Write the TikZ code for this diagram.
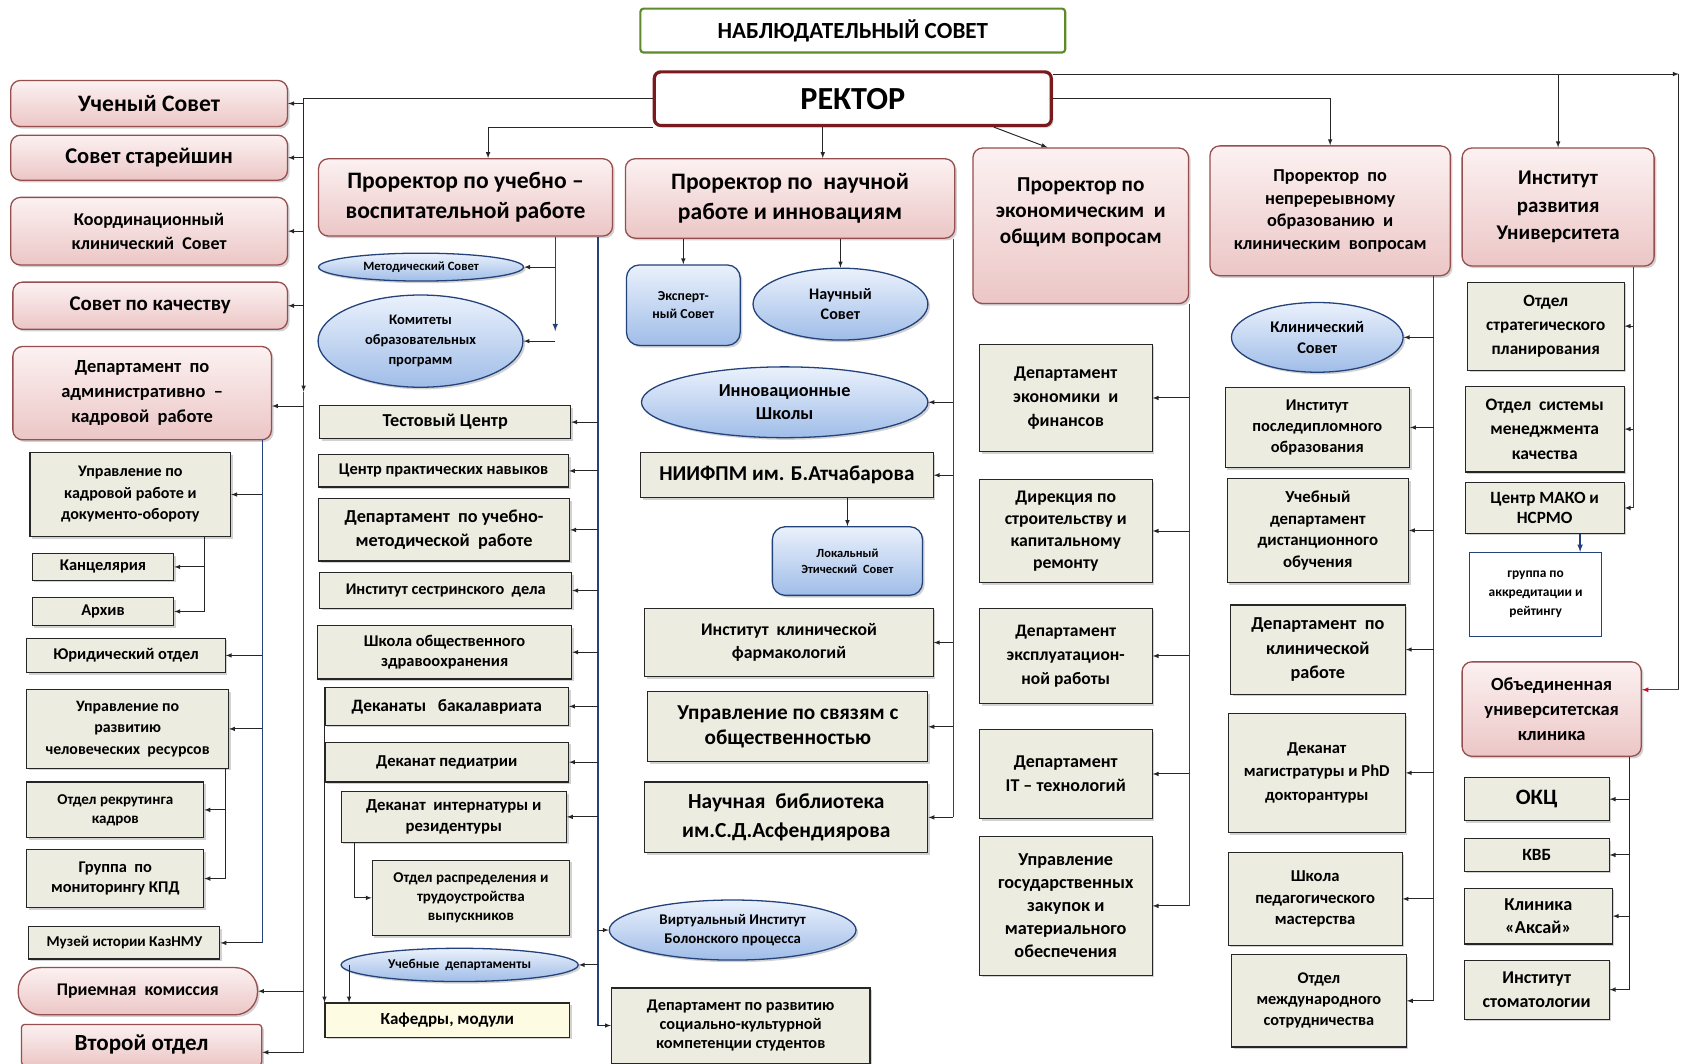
\documentclass[tikz,border=0pt]{standalone}
\usepackage{fontspec}
\setmainfont{Carlito}
\usepackage{xcolor}
\usetikzlibrary{arrows}
\usetikzlibrary{shapes.geometric}
\usetikzlibrary{calc, shadows}
\definecolor{qpink}{RGB}{236,198,198}
\definecolor{qpinklt}{RGB}{252,241,241}
\definecolor{qbrd}{RGB}{150,78,78}
\definecolor{qbeige}{RGB}{237,236,224}
\definecolor{qblue}{RGB}{36,66,122}
\definecolor{qbluelt}{RGB}{234,241,252}
\definecolor{qbluedk}{RGB}{160,189,232}
\definecolor{qred}{RGB}{190,20,42}
\definecolor{qgreen}{RGB}{94,139,42}
\definecolor{qmaroon}{RGB}{120,26,30}
\definecolor{qyel}{RGB}{253,251,226}

\tikzset{
  fs/.style 2 args={font=\fontsize{#1}{#2}\selectfont\bfseries},
  sz/.style 2 args={minimum width=#1, minimum height=#2},
  shad/.style={drop shadow={shadow xshift=2pt, shadow yshift=-2pt, opacity=0.35}},
  pinkbox/.style={rectangle, draw=qbrd, line width=1.2pt, rounded corners=9pt,
    top color=qpinklt, bottom color=qpink, align=center, inner sep=2pt, shad},
  beigebox/.style={rectangle, draw=black!85, line width=1pt, fill=qbeige,
    align=center, inner sep=2pt, shad},
  blueell/.style={ellipse, draw=qblue, line width=1.2pt, top color=qbluelt,
    bottom color=qbluedk, align=center, inner sep=0pt, shad},
  bluerr/.style={rectangle, rounded corners=12pt, draw=qblue, line width=1.2pt,
    top color=qbluelt, bottom color=qbluedk, align=center, inner sep=2pt, shad},
  cn/.style={draw=black!85, line width=0.9pt},
  bus/.style={draw=qblue, line width=1.3pt},
  redl/.style={draw=qred, line width=1.1pt},
}

\begin{document}
\begin{tikzpicture}[x=1pt, y=-1pt]
\path[fill=white] (0,0) rectangle (1568,991);
\useasboundingbox (0,0) rectangle (1568,991);

% top
\node[draw=qgreen, line width=2pt, rounded corners=3pt, fill=white, sz={396}{41}, fs={21.5}{24}] (nsovet) at (795,28.5) {НАБЛЮДАТЕЛЬНЫЙ СОВЕТ};
\node[draw=qmaroon, line width=3pt, rounded corners=6pt, fill=white, sz={370}{50}, fs={30}{34}, shad] (rektor) at (795,92) {РЕКТОР};

% left column
\node[pinkbox, sz={258}{43}, fs={22}{26}] (us) at (139,96.5) {Ученый Совет};
\node[pinkbox, sz={258}{42}, fs={21}{25}] (sst) at (139,147) {Совет старейшин};
\node[pinkbox, sz={258}{63}, fs={16.8}{22}] (kks) at (139,215.5) {Координационный\\клинический \ Совет};
\node[pinkbox, sz={256}{44}, fs={19.5}{23}] (spk) at (140,285) {Совет по качеству};
\node[pinkbox, sz={241}{87}, fs={17.2}{23}] (dak) at (132.5,366.5) {Департамент \ по\\административно \ –\\кадровой \ работе};
\node[beigebox, sz={187}{78}, fs={15}{20}] (ukr) at (121.5,461) {Управление по\\кадровой работе и\\документо-обороту};
\node[beigebox, sz={132}{25}, fs={15.3}{18}] (kanc) at (96,528.5) {Канцелярия};
\node[beigebox, sz={132}{26}, fs={15.3}{18}] (arch) at (96,570) {Архив};
\node[beigebox, sz={185}{32}, fs={15.3}{18}] (yur) at (117.5,611) {Юридический отдел};
\node[beigebox, sz={188}{73}, fs={14.8}{20}] (urchr) at (119,679.5) {Управление по\\развитию\\человеческих \ ресурсов};
\node[beigebox, sz={165}{52}, fs={14}{17.5}] (rekr) at (107.5,755) {Отдел рекрутинга\\кадров};
\node[beigebox, sz={165}{54}, fs={15.3}{19}] (kpd) at (107.5,819) {Группа \ по\\мониторингу КПД};
\node[beigebox, sz={178}{30}, fs={14}{16}] (muz) at (116,879) {Музей истории КазНМУ};
\node[pinkbox, rounded corners=21pt, sz={223}{44}, fs={16.6}{20}] (prk) at (128.5,924) {Приемная \ комиссия};
\node[pinkbox, rounded corners=3pt, sz={224}{38}, fs={21.5}{24}] (vtor) at (132,974) {Второй отдел};

% column of the first vice-rector
\node[pinkbox, sz={274}{72}, fs={22}{28}] (pr1) at (434,184) {Проректор по учебно –\\воспитательной работе};
\node[blueell, sz={191}{26}, fs={11.8}{13}] (metod) at (392.5,249) {Методический Совет};
\node[blueell, sz={191}{86}, fs={13.5}{18.5}] (kom) at (392,318) {Комитеты\\образовательных\\программ};
\node[beigebox, sz={234}{31}, fs={17}{20}] (test) at (415,393.5) {Тестовый Центр};
\node[beigebox, sz={233}{30}, fs={15.3}{18}] (cpn) at (413.5,439) {Центр практических навыков};
\node[beigebox, sz={234}{58}, fs={17}{22}] (dum) at (414,494) {Департамент \ по учебно-\\методической \ работе};
\node[beigebox, sz={235}{33}, fs={15.2}{18}] (isd) at (415.5,550.5) {Институт сестринского \ дела};
\node[beigebox, sz={237}{50}, fs={15.3}{19}] (shoz) at (414.5,608) {Школа общественного\\здравоохранения};
\node[beigebox, sz={227}{35}, fs={16.2}{19}] (dbak) at (416.5,658.5) {Деканаты \ \ бакалавриата};
\node[beigebox, sz={227}{37}, fs={15.5}{19}] (dped) at (416.5,710.5) {Деканат педиатрии};
\node[beigebox, sz={210}{47}, fs={15.6}{19}] (dint) at (423,761.5) {Деканат \ интернатуры и\\резидентуры};
\node[beigebox, sz={184}{70}, fs={14}{18}] (otrd) at (439,837) {Отдел распределения и\\трудоустройства\\выпускников};
\node[blueell, sz={221}{31}, fs={12.5}{14}] (ucd) at (428.5,899.5) {Учебные \ департаменты};
\node[beigebox, fill=qyel, sz={228}{32}, fs={15.8}{18}] (kaf) at (417,951) {Кафедры, модули};
\node[blueell, sz={230}{56}, fs={13.8}{18}] (vib) at (683,867) {Виртуальный Институт\\Болонского процесса};
\node[beigebox, sz={241}{70}, fs={15.2}{18}] (dsk) at (690.5,956) {Департамент по развитию\\социально-культурной\\компетенции студентов};

% column of science
\node[pinkbox, sz={307}{74}, fs={22}{28}] (pr2) at (736.5,185) {Проректор по \ научной\\работе и инновациям};
\node[bluerr, sz={106}{75}, fs={12.8}{17}] (ekspert) at (637,284.5) {Эксперт-\\ный Совет};
\node[blueell, sz={163}{67}, fs={15}{19}] (nauch) at (783.5,283.5) {Научный\\Совет};
\node[blueell, sz={267}{66}, fs={17}{21}] (innov) at (731.5,375) {Инновационные\\Школы};
\node[beigebox, sz={273}{42}, fs={19.7}{23}] (niifpm) at (733.5,443) {НИИФПМ им. Б.Атчабарова};
\node[bluerr, sz={140}{64}, fs={11.6}{15}] (les) at (790,523) {Локальный\\Этический \ Совет};
\node[beigebox, sz={269}{64}, fs={16.5}{22}] (ikf) at (735.5,599) {Институт \ клинической\\фармакологий};
\node[beigebox, sz={261}{65}, fs={19.8}{22.5}] (usvo) at (734.5,677.5) {Управление по связям с\\общественностью};
\node[beigebox, sz={264}{66}, fs={20}{27}] (bib) at (733,762) {Научная \ библиотека\\им.С.Д.Асфендиярова};

% column of economy
\node[pinkbox, sz={201}{145}] (pr3) at (1007.5,210.5) {};
\node[fs={19.8}{24.5}, align=center] (pr3t) at (1007.5,198) {Проректор по\\экономическим \ и\\общим вопросам};
\node[beigebox, sz={161}{100}, fs={16.7}{22.5}] (dekf) at (993.5,371) {Департамент\\экономики \ и\\финансов};
\node[beigebox, sz={161}{96}, fs={16.5}{20.5}] (dsk2) at (993.5,495) {Дирекция по\\строительству и\\капитальному\\ремонту};
\node[beigebox, sz={161}{89}, fs={16.3}{22.5}] (dexp) at (993.5,611.5) {Департамент\\эксплуатацион-\\ной работы};
\node[beigebox, sz={161}{83}, fs={16.8}{22}] (dit) at (993.5,721.5) {Департамент\\IT – технологий};
\node[beigebox, sz={161}{129}, fs={17}{21.5}] (ugz) at (993.5,844.5) {Управление\\государственных\\закупок и\\материального\\обеспечения};

% column of clinical questions
\node[pinkbox, sz={224}{121}, fs={17}{21}] (pr4) at (1240,196.5) {Проректор \ по\\непререывному\\образованию \ и\\клиническим \ вопросам};
\node[blueell, sz={160}{65}, fs={15.2}{20}] (klin) at (1228,314.5) {Клинический\\Совет};
\node[beigebox, sz={172}{75}, fs={15.3}{19.5}] (ipo) at (1228,398.5) {Институт\\последипломного\\образования};
\node[beigebox, sz={169}{97}, fs={15.7}{20}] (udo) at (1228.5,494.5) {Учебный\\департамент\\дистанционного\\обучения};
\node[beigebox, sz={163}{83}, fs={17}{22.5}] (dkr) at (1228.5,605.5) {Департамент \ по\\клинической\\работе};
\node[beigebox, sz={165}{111}, fs={15.5}{22}] (dmag) at (1227.5,720.5) {Деканат\\магистратуры и PhD\\докторантуры};
\node[beigebox, sz={162}{86}, fs={15.5}{20}] (shpm) at (1226,838) {Школа\\педагогического\\мастерства};
\node[beigebox, sz={163}{86}, fs={15.2}{19.5}] (omc) at (1229.5,933) {Отдел\\международного\\сотрудничества};

% right column
\node[pinkbox, sz={179}{110}, fs={19.5}{25.5}] (iru) at (1452.5,193) {Институт\\развития\\Университета};
\node[beigebox, sz={146}{82}, fs={16}{22.5}] (osp) at (1441,304) {Отдел\\стратегического\\планирования};
\node[beigebox, sz={148}{80}, fs={16.3}{23}] (osmk) at (1440,400) {Отдел \ системы\\менеджмента\\качества};
\node[beigebox, sz={148}{47}, fs={16}{19}] (cmako) at (1440,473.5) {Центр МАКО и\\НСРМО};
\node[draw=qblue, line width=1pt, fill=white, align=center, sz={123}{78}, fs={12.5}{18}] (grak) at (1431.5,554) {группа по\\аккредитации и\\рейтингу};
\node[pinkbox, sz={167}{88}, fs={17.3}{23}] (ouk) at (1446.5,661) {Объединенная\\университетская\\клиника};
\node[beigebox, sz={135}{40}, fs={20.5}{24}] (okc) at (1432.5,745) {ОКЦ};
\node[beigebox, sz={135}{30}, fs={16}{18}] (kvb) at (1432.5,797) {КВБ};
\node[beigebox, sz={138}{52}, fs={17}{21}] (aksai) at (1434,854) {Клиника\\«Аксай»};
\node[beigebox, sz={135}{55}, fs={16.8}{22}] (ist) at (1432.5,922.5) {Институт\\стоматологии};

% lines from the rector
\coordinate (lb) at (283,365);
\coordinate (lbe) at (283,981);
\draw[cn,-latex] (rektor.west) -| (lb);
\draw[redl] (lb) -- (lbe);
\foreach \n in {us,sst,kks,spk}
  \draw[cn,-latex] (lb |- \n.east) -- (\n.east);
\draw[cn,-latex] ($(lb |- dak.east)+(0,12)$) -- ($(dak.east)+(0,12)$);
\draw[cn,-latex] (lb |- prk.east) -- (prk.east);
\draw[cn,-latex] (lbe) -- (lbe -| vtor.east);
\draw[cn,-latex] (rektor.south west) -| ($(pr1.north)+(21,0)$);
\draw[cn,-latex] ($(rektor.south)+(-28,0)$) -- ($(pr2.north)+(30.5,0)$);
\draw[cn,-latex] ($(rektor.south east)+(-55,0)$) -- ($(pr3.north west)+(70,0)$);
\draw[cn,-latex] (rektor.east) -| (pr4.north);
\coordinate (rc) at (1565,69);
\coordinate (ok1) at ($(ouk.east)+(0,-18)$);
\draw[cn,-latex] (rektor.north east |- rc) -- (rc);
\draw[cn,-latex] (iru.north |- rc) -- (iru.north);
\draw[cn] (rc) -- (rc |- ok1);
\draw[redl,-latex] (rc |- ok1) -- (ok1);

% administrative department
\coordinate (ab) at ($(dak.south east)+(-9,0)$);
\draw[bus] (ab) -- (ab |- muz.east);
\foreach \n in {ukr,yur,urchr,muz}
  \draw[cn,-latex] (ab |- \n.east) -- (\n.east);
\coordinate (kb) at ($(ukr.south east)+(-25,0)$);
\draw[cn,-latex] (kb) |- (arch.east);
\draw[cn,-latex] (kb |- kanc.east) -- (kanc.east);
\coordinate (rb) at ($(urchr.south east)+(-3,0)$);
\draw[cn,-latex] (rb) |- (kpd.east);
\draw[cn,-latex] (rb |- rekr.east) -- (rekr.east);

% first vice-rector
\coordinate (ib) at ($(pr1.south east)+(-54,0)$);
\draw[bus,-latex] (ib) -- ++(0,88);
\draw[cn,-latex] (ib |- metod.east) -- (metod.east);
\draw[cn,-latex] (ib |- kom.east) -- (kom.east);
\coordinate (mb) at ($(pr1.south east)+(-14,0)$);
\draw[bus] (mb) -- (mb |- dsk.west);
\foreach \n in {test,cpn,dum,isd,shoz,dbak,dped,dint,ucd}
  \draw[cn,-latex] (mb |- \n.east) -- (\n.east);
\foreach \n in {vib,dsk}
  \draw[cn,-latex] (mb |- \n.west) -- (\n.west);
\draw[cn,-latex] ($(dint.south west)+(13,0)$) |- (otrd.west);
\draw[cn,-latex] (dbak.south west) -- (dbak.south west |- kaf.north);
\coordinate (u1) at ($(ucd.west)+(8,0)$);
\draw[cn,-latex] (u1) -- (u1 |- kaf.north);

% science
\coordinate (sb) at ($(pr2.south east)+(-2,0)$);
\draw[bus] (sb) -- (sb |- bib.east);
\foreach \n in {innov,niifpm,ikf,usvo,bib}
  \draw[cn,-latex] (sb |- \n.east) -- (\n.east);
\draw[cn,-latex] (pr2.south -| ekspert.north) -- (ekspert.north);
\draw[cn,-latex] (pr2.south -| nauch.north) -- (nauch.north);
\draw[cn,-latex] (niifpm.south -| les.north) -- (les.north);

% economy
\coordinate (eb) at (pr3.south east);
\draw[bus] (eb) -- (eb |- ugz.east);
\foreach \n in {dekf,dsk2,dexp,dit,ugz}
  \draw[cn,-latex] (eb |- \n.east) -- (\n.east);

% clinical questions
\coordinate (cb) at ($(pr4.south east)+(-16,0)$);
\draw[bus] (cb) -- (cb |- omc.east);
\foreach \n in {klin,ipo,udo,dkr,dmag,shpm,omc}
  \draw[cn,-latex] (cb |- \n.east) -- (\n.east);

% development institute and clinic
\coordinate (db) at ($(iru.south east)+(-20,0)$);
\draw[bus] (db) -- (db |- cmako.east);
\foreach \n in {osp,osmk,cmako}
  \draw[cn,-latex] (db |- \n.east) -- (\n.east);
\coordinate (g1) at ($(cmako.south)+(33,0)$);
\draw[bus,-latex] (g1) -- (g1 |- grak.north);
\coordinate (ub) at ($(ouk.south east)+(-12,0)$);
\draw[cn] (ub) -- (ub |- ist.east);
\foreach \n in {okc,kvb,aksai,ist}
  \draw[cn,-latex] (ub |- \n.east) -- (\n.east);
\end{tikzpicture}
\end{document}
